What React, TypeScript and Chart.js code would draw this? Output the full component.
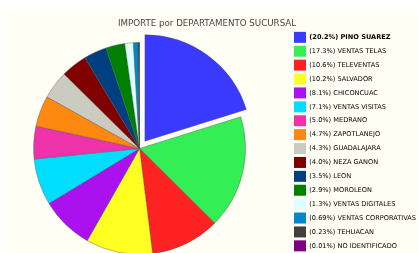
import React, { useEffect, useRef } from "react";
import { Chart, registerables } from "chart.js";

Chart.register(...registerables);

const TITLE = "IMPORTE por DEPARTAMENTO SUCURSAL";
const categories = [
  "PINO SUAREZ",
  "VENTAS TELAS",
  "TELEVENTAS",
  "SALVADOR",
  "CHICONCUAC",
  "VENTAS VISITAS",
  "MEDRANO",
  "ZAPOTLANEJO",
  "GUADALAJARA",
  "NEZA GANON",
  "LEON",
  "MOROLEON",
  "VENTAS DIGITALES",
  "VENTAS CORPORATIVAS",
  "TEHUACAN",
  "NO IDENTIFICADO",
];
const shares = [20.2, 17.3, 10.6, 10.2, 8.1, 7.1, 5.0, 4.7, 4.3, 4.0, 3.5, 2.9, 1.3, 0.69, 0.23, 0.01];
const colors = [
  "#3a3aff",
  "#33ee55",
  "#ff2222",
  "#ffff22",
  "#aa11ee",
  "#00ddff",
  "#ee33aa",
  "#ff8811",
  "#cccbc0",
  "#800000",
  "#004080",
  "#008000",
  "#ddffff",
  "#0088cc",
  "#404040",
  "#800080",
];
// Chart.js moves an arc by offset / 4 pixels
const offsets = [36, 0, 0, 0, 0, 0, 0, 0, 0, 0, 0, 0, 0, 0, 0, 0];

const CREAM = "#fffff6";
const FONT = "'DejaVu Sans', Verdana, sans-serif";
const LEGEND_SIZE = 6.6;

const fmt = (v: number) => (v >= 1 ? v.toFixed(1) : v.toFixed(2)) + "%";

const boldFirst = {
  id: "boldFirst",
  afterDraw(chart: any) {
    const legend = chart.legend;
    if (!legend || !legend.legendHitBoxes || !legend.legendHitBoxes[0]) return;
    const hb = legend.legendHitBoxes[0];
    const item = legend.legendItems[0];
    const ctx = chart.ctx;
    const bw = legend.options.labels.boxWidth;
    const tx = hb.left + bw + LEGEND_SIZE / 2;
    const ty = hb.top + hb.height / 2;
    ctx.save();
    ctx.fillStyle = CREAM;
    ctx.fillRect(tx - 0.5, hb.top, hb.width - bw - LEGEND_SIZE / 2 + 20, hb.height);
    ctx.font = `bold ${LEGEND_SIZE}px ${FONT}`;
    ctx.fillStyle = "#000";
    ctx.textBaseline = "middle";
    ctx.textAlign = "left";
    ctx.fillText(item.text, tx, ty);
    ctx.restore();
  },
};

export default function App() {
  const ref = useRef<HTMLCanvasElement | null>(null);
  useEffect(() => {
    if (!ref.current) return;
    const chart = new Chart(ref.current, {
      type: "pie",
      data: {
        labels: categories,
        datasets: [
          {
            data: shares,
            backgroundColor: colors,
            borderColor: "rgba(80,80,80,0.55)",
            borderWidth: 0.7,
            offset: offsets,
            radius: 106,
          } as any,
        ],
      },
      options: {
        responsive: false,
        animation: false,
        layout: { padding: 0 },
        plugins: {
          tooltip: { enabled: false },
          title: {
            display: true,
            text: TITLE,
            color: "#444",
            font: { family: FONT, size: 8.7, weight: "normal" as any, lineHeight: 1.2 },
            padding: { top: 8.5, bottom: 0 },
          },
          legend: {
            display: true,
            position: "right",
            align: "start",
            fullSize: false,
            labels: {
              boxWidth: 12,
              boxHeight: 11,
              padding: 2.9,
              color: "#333",
              font: { family: FONT, size: LEGEND_SIZE },
              generateLabels: () =>
                categories.map((c, i) => ({
                  text: `(${fmt(shares[i])}) ${c}`,
                  fillStyle: colors[i],
                  strokeStyle: colors[i],
                  lineWidth: 0,
                  hidden: false,
                  index: i,
                })),
            },
          },
        },
      },
      plugins: [boldFirst],
    });
    return () => chart.destroy();
  }, []);

  return (
    <div
      style={{
        position: "fixed",
        left: 0,
        top: 0,
        width: 418,
        height: 253,
        overflow: "hidden",
        background: "#fff",
      }}
    >
      <div style={{ position: "absolute", left: 8, top: 10, right: 0, bottom: 0, background: CREAM }} />
      <canvas
        ref={ref}
        width={438}
        height={258}
        style={{ position: "absolute", left: -12, top: 10, width: 438, height: 258 }}
      />
    </div>
  );
}
